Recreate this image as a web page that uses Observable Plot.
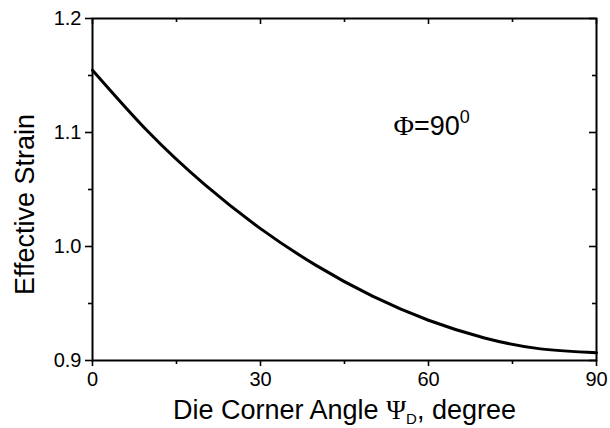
<!DOCTYPE html>
<html><head><meta charset="utf-8">
<script src="https://cdn.jsdelivr.net/npm/d3@7"></script>
<script src="https://cdn.jsdelivr.net/npm/@observablehq/plot@0.6"></script>
<style>body{margin:0;background:#fff}</style>
</head><body><div id="chart"></div>
<script>
const angles = [0, 10, 20, 30, 40, 50, 60, 70, 80, 90];
const strain = [1.1547, 1.1004, 1.0545, 1.0157, 0.9832, 0.9564, 0.9353, 0.9198, 0.9102, 0.9069];
const xMajor = [0, 30, 60, 90];
const xMinor = [15, 45, 75];
const yMajor = [0.9, 1.0, 1.1, 1.2];
const yMinor = [0.95, 1.05, 1.15];
const annotation = [{x: 53.75, y: 1.1057, label: "Φ=90"}];

const data = angles.map((a, i) => ({a, s: strain[i]}));
const font = "Liberation Sans, Arial, sans-serif";
const W = 610, H = 428, ML = 92, MR = 14, MT = 18, MB = 68;
const FW = W - ML - MR, FH = H - MT - MB;

const plot = Plot.plot({
  width: W, height: H,
  marginLeft: ML, marginRight: MR, marginTop: MT, marginBottom: MB,
  x: {domain: [0, 90]},
  y: {domain: [0.9, 1.2]},
  style: {fontFamily: font, background: "#fff", color: "#000"},
  marks: [
    Plot.frame({stroke: "#000", strokeWidth: 2}),
    Plot.axisX({ticks: xMajor, tickSize: 6, tickFormat: d => String(d), fontSize: 20, tickPadding: 5, label: null, strokeWidth: 1.6}),
    Plot.axisX({ticks: xMinor, tickSize: 4, text: null, label: null, strokeWidth: 1.6}),
    Plot.axisY({ticks: yMajor, tickSize: 7, tickFormat: d3.format(".1f"), fontSize: 20, tickPadding: 4, label: null, strokeWidth: 1.6}),
    Plot.axisY({ticks: yMinor, tickSize: 4, text: null, label: null, strokeWidth: 1.6}),
    // inward ticks on top and right
    Plot.tickX(xMajor, {x: d => d, insetBottom: FH - 6, stroke: "#000", strokeWidth: 1.6}),
    Plot.tickX(xMinor, {x: d => d, insetBottom: FH - 4, stroke: "#000", strokeWidth: 1.6}),
    Plot.tickY(yMajor, {y: d => d, insetLeft: FW - 7, stroke: "#000", strokeWidth: 1.6}),
    Plot.tickY(yMinor, {y: d => d, insetLeft: FW - 4, stroke: "#000", strokeWidth: 1.6}),
    Plot.line(data, {x: "a", y: "s", curve: "natural", stroke: "#000", strokeWidth: 3}),
    Plot.text(annotation, {x: "x", y: "y", text: "label", textAnchor: "start", lineAnchor: "middle", fontSize: 27, fill: "#000", className: "anno"}),
    Plot.text(["Die Corner Angle Ψ, degree"], {frameAnchor: "bottom", lineAnchor: "middle", dy: 50, fontSize: 27, fill: "#000", className: "xlab"}),
    Plot.text(["Effective Strain"], {frameAnchor: "left", textAnchor: "middle", lineAnchor: "middle", dx: -67, dy: 15, rotate: -90, fontSize: 27, fill: "#000"})
  ]
});
document.getElementById("chart").appendChild(plot);

// annotation with serif Φ and superscript 0
d3.select(plot).selectAll(".anno text").each(function() {
  const t = d3.select(this);
  t.text(null);
  t.append("tspan").attr("font-family", "Liberation Serif, Times New Roman, serif").attr("font-size", 28).text("Φ");
  t.append("tspan").text("=90");
  t.append("tspan").attr("dy", "-12").attr("font-size", 18).text("0");
});
// subscript on x label
d3.select(plot).selectAll(".xlab text").each(function() {
  const t = d3.select(this);
  t.text(null);
  t.append("tspan").text("Die Corner Angle ");
  t.append("tspan").attr("font-family", "Liberation Serif, Times New Roman, serif").text("Ψ");
  t.append("tspan").attr("font-size", 15).attr("dy", "5").text("D");
  t.append("tspan").attr("dy", "-5").text(", degree");
});
</script></body></html>
